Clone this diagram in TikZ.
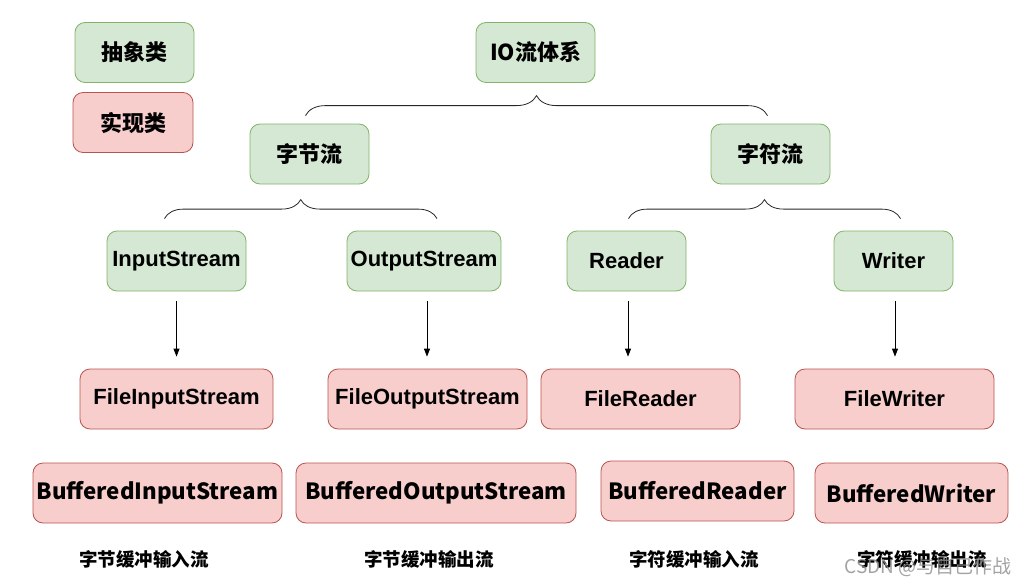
\documentclass[tikz,border=0pt]{standalone}
\usepackage{fontspec}
\setmainfont{Liberation Sans}
\newfontfamily\cjk{Noto Sans CJK SC}
\usetikzlibrary{arrows.meta, calc, decorations.pathreplacing}
\definecolor{absfill}{RGB}{213, 232, 212}
\definecolor{absline}{RGB}{130, 179, 102}
\definecolor{implfill}{RGB}{248, 206, 204}
\definecolor{implline}{RGB}{184, 84, 80}

\tikzset{
    absbox/.style={draw=absline, fill=absfill, rounded corners=10pt, line width=0.8pt,
        minimum height=60pt, minimum width=119pt, inner sep=2pt,
        font=\fontsize{22}{26}\selectfont\bfseries},
    implbox/.style={draw=implline, fill=implfill, rounded corners=10pt, line width=0.8pt,
        minimum height=60pt, minimum width=193pt, inner sep=2pt,
        font=\fontsize{22}{26}\selectfont\bfseries},
    buffbox/.style={implbox, font=\cjk\fontsize{22.3}{27}\selectfont\bfseries},
    cjktext/.style={font=\cjk\fontsize{22}{26}\selectfont\bfseries},
    caption/.style={font=\cjk\fontsize{18.5}{22}\selectfont\bfseries},
    arrow/.style={-{Triangle[length=8pt, width=6pt]}, line width=0.8pt,
        shorten <=10pt, shorten >=12pt},
    bracket/.style={decorate, line width=0.8pt, black!85}
}

\begin{document}
\begin{tikzpicture}[x=1pt, y=-1pt]
    \useasboundingbox (0,0) rectangle (1030,586);

    % legend
    \node[absbox, cjktext] (legabs) at (134.5,52.5) {抽象类};
    \node[implbox, cjktext, minimum width=120pt] (legimpl) at (133,122.5) {实现类};

    % hierarchy
    \node[absbox, cjktext] (io) at (535.5,52.5) {IO流体系};
    \node[absbox, cjktext] (byte) at (309.5,154) {字节流};
    \node[absbox, cjktext] (char) at (770.5,154) {字符流};

    \node[absbox, minimum width=139pt] (is) at (176.5,261) {InputStream};
    \node[absbox, minimum width=154pt] (os) at (424,261) {OutputStream};
    \node[absbox] (rd) at (626.5,261) {Reader};
    \node[absbox] (wr) at (893.5,261) {Writer};

    \node[implbox] (fis) at (176.5,399) {FileInputStream};
    \node[implbox, minimum width=199pt] (fos) at (427.5,399) {FileOutputStream};
    \node[implbox, minimum width=199pt] (frd) at (640.5,399) {FileReader};
    \node[implbox, minimum width=199pt] (fwr) at (894.5,399) {FileWriter};

    \node[buffbox, minimum width=249pt] (bis) at (157.5,493) {BufferedInputStream};
    \node[buffbox, minimum width=280pt] (bos) at (436,493) {BufferedOutputStream};
    \node[buffbox] (brd) at (697.5,491) {BufferedReader};
    \node[buffbox] (bwr) at (911.5,493) {BufferedWriter};

    \node[caption] (capbis) at (144,559) {字节缓冲输入流};
    \node[caption] (capbos) at (429,559) {字节缓冲输出流};
    \node[caption] (capbrd) at (694,559) {字符缓冲输入流};
    \node[caption] (capbwr) at (922,559) {字符缓冲输出流};

    % braces
    \draw[bracket, decoration={brace, amplitude=20pt}]
        ([xshift=-4pt, yshift=8pt]byte.north) -- ([xshift=-3pt, yshift=8pt]char.north);
    \draw[bracket, decoration={brace, amplitude=19pt}]
        ([xshift=-12pt, yshift=12pt]is.north) -- ([xshift=13pt, yshift=12pt]os.north);
    \draw[bracket, decoration={brace, amplitude=19pt}]
        ([xshift=2pt, yshift=12pt]rd.north) -- ([xshift=7pt, yshift=12pt]wr.north);

    % arrows
    \draw[arrow] (is.south) -- (is.south |- fis.north);
    \draw[arrow] ([xshift=3pt]os.south) -- ([xshift=3pt]os.south |- fos.north);
    \draw[arrow] ([xshift=1.5pt]rd.south) -- ([xshift=1.5pt]rd.south |- frd.north);
    \draw[arrow] ([xshift=1.5pt]wr.south) -- ([xshift=1.5pt]wr.south |- fwr.north);

    % watermark
    \node[font=\cjk\fontsize{19}{22}\selectfont, text=black!45, opacity=0.8] (mark) at (928,567) {CSDN @与自己作战};
\end{tikzpicture}
\end{document}
